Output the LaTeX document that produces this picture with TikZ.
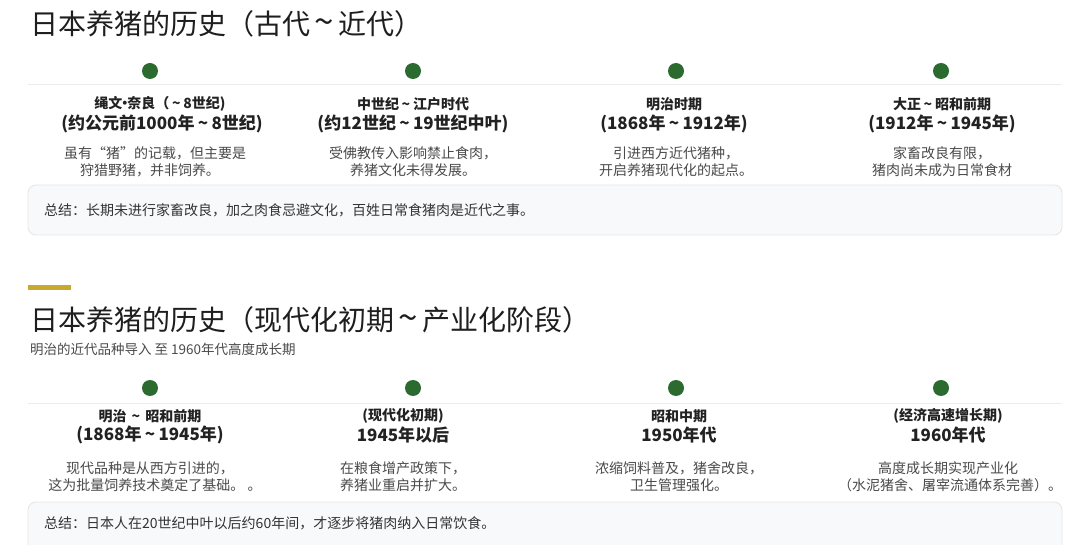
\documentclass[tikz,border=0pt]{standalone}
\usepackage{fontspec}
\setmainfont{Noto Sans CJK SC}
\usetikzlibrary{positioning}
\newcommand{\wave}{\makebox[1em]{\textasciitilde}}
\newcommand{\bigwave}{\makebox[1em]{\scalebox{1.25}{\textasciitilde}}}
\newcommand{\middot}{\makebox[0.35em]{·}}
\definecolor{dotgreen}{HTML}{2B6B2F}
\definecolor{gold}{HTML}{C9A731}
\definecolor{titlecol}{HTML}{1E1E1E}
\definecolor{headcol}{HTML}{222222}
\definecolor{desccol}{HTML}{4A4A4A}
\definecolor{sumcol}{HTML}{333333}
\definecolor{rulecol}{HTML}{ECECEC}
\definecolor{boxfill}{HTML}{F8F9FA}
\definecolor{boxdraw}{HTML}{E3E6E8}
\tikzset{
  titletext/.style={anchor=west,inner sep=0pt,text=titlecol,font=\fontsize{28}{30}\selectfont},
  subtext/.style={anchor=west,inner sep=0pt,text=desccol,font=\fontsize{13.5}{16}\selectfont},
  dotmark/.style={circle,fill=dotgreen,minimum size=16pt,inner sep=0pt},
  headone/.style={inner sep=0pt,text=headcol,font=\fontsize{14}{16}\selectfont\bfseries},
  headtwo/.style={inner sep=0pt,text=headcol,font=\fontsize{17}{20}\selectfont\bfseries},
  desctext/.style={inner sep=0pt,text=desccol,font=\fontsize{14}{17}\selectfont},
  sumtext/.style={anchor=west,inner sep=0pt,text=sumcol,font=\fontsize{14}{17}\selectfont},
  sumbox/.style={draw=boxdraw,fill=boxfill,rounded corners=8pt,line width=0.8pt},
  timeline/.style={draw=rulecol,line width=1pt}
}
\begin{document}
\begin{tikzpicture}[x=1pt,y=-1pt]
\useasboundingbox (0,0) rectangle (1080,545);
\clip (0,0) rectangle (1080,545);
\fill[white] (0,0) rectangle (1080,545);

% ---------- Section 1 ----------
\node[titletext] (t1) at (30,24) {日本养猪的历史（古代\bigwave 近代）};

\coordinate (l1a) at (28,85);
\coordinate (l1b) at (1062,85);
\draw[timeline] (l1a) -- (l1b);

\foreach \i/\x in {1/150,2/413,3/676,4/941}{
  \node[dotmark] (da\i) at (\x,71) {};
}

\node[headone] (ha1) at (160,104) {绳文\middot 奈良（\wave 8世纪)};
\node[headtwo] (hb1) at (162,124) {(约公元前1000年\wave 8世纪)};
\node[desctext] (ea1) at (155,153) {虽有“猪”的记载，但主要是};
\node[desctext] (eb1) at (150,170) {狩猎野猪，并非饲养。};

\node[headone] (ha2) at (413,104) {中世纪\wave 江户时代};
\node[headtwo] (hb2) at (413,124) {(约12世纪\wave 19世纪中叶)};
\node[desctext] (ea2) at (413,153) {受佛教传入影响禁止食肉，};
\node[desctext] (eb2) at (413,170) {养猪文化未得发展。};

\node[headone] (ha3) at (674,104) {明治时期};
\node[headtwo] (hb3) at (674,124) {(1868年\wave 1912年)};
\node[desctext] (ea3) at (676,153) {引进西方近代猪种，};
\node[desctext] (eb3) at (676,170) {开启养猪现代化的起点。};

\node[headone] (ha4) at (942,104) {大正\wave 昭和前期};
\node[headtwo] (hb4) at (942,124) {(1912年\wave 1945年)};
\node[desctext] (ea4) at (942,153) {家畜改良有限，};
\node[desctext] (eb4) at (942,170) {猪肉尚未成为日常食材};

\path[sumbox] (28,185) rectangle (1062,235);
\node[sumtext] (s1) at (44,210) {总结：长期未进行家畜改良，加之肉食忌避文化，百姓日常食猪肉是近代之事。};

% ---------- Section 2 ----------
\fill[gold] (28,285.5) rectangle (71,290.5);
\node[titletext] (t2) at (30,320) {日本养猪的历史（现代化初期\bigwave 产业化阶段）};
\node[subtext] (st2) at (30,349) {明治的近代品种导入 至 1960年代高度成长期};

\coordinate (l2a) at (28,404);
\coordinate (l2b) at (1062,404);
\draw[timeline] (l2a) -- (l2b);

\foreach \i/\x in {1/150,2/413,3/676,4/941}{
  \node[dotmark] (db\i) at (\x,388) {};
}

\node[headone] (hc1) at (150,416) {明治\,\wave\,昭和前期};
\node[headtwo] (hd1) at (150,435) {(1868年\wave 1945年)};
\node[desctext] (ec1) at (150,468) {现代品种是从西方引进的，};
\node[desctext] (ed1) at (155,485) {这为批量饲养技术奠定了基础。 。};

\node[headone] (hc2) at (403,416) {(现代化初期)};
\node[headtwo] (hd2) at (403,435) {1945年以后};
\node[desctext] (ec2) at (403,468) {在粮食增产政策下，};
\node[desctext] (ed2) at (403,485) {养猪业重启并扩大。};

\node[headone] (hc3) at (679,416) {昭和中期};
\node[headtwo] (hd3) at (679,435) {1950年代};
\node[desctext] (ec3) at (679,468) {浓缩饲料普及，猪舍改良，};
\node[desctext] (ed3) at (679,485) {卫生管理强化。};

\node[headone] (hc4) at (948,416) {(经济高速增长期)};
\node[headtwo] (hd4) at (948,435) {1960年代};
\node[desctext] (ec4) at (948,468) {高度成长期实现产业化};
\node[desctext] (ed4) at (950,485) {（水泥猪舍、屠宰流通体系完善）。};

\path[sumbox] (28,502) rectangle (1062,570);
\node[sumtext] (s2) at (44,523) {总结：日本人在20世纪中叶以后约60年间，才逐步将猪肉纳入日常饮食。};
\end{tikzpicture}
\end{document}
